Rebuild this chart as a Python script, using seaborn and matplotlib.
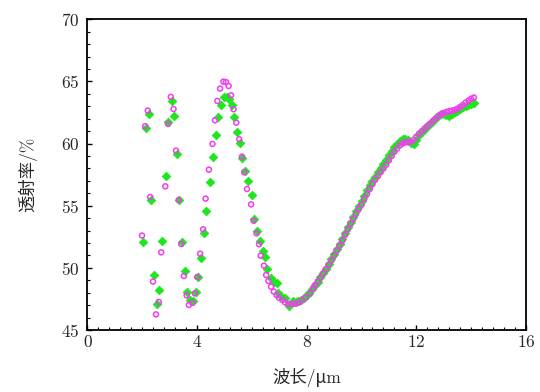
import matplotlib
matplotlib.use('Agg')
import matplotlib.pyplot as plt
import seaborn as sns
import pandas as pd
from matplotlib.ticker import MultipleLocator

# magenta open circles
wl_pink = [1.99, 2.11, 2.20, 2.29, 2.39, 2.50, 2.60, 2.69, 2.84, 2.94, 3.04, 3.14, 3.23, 3.33, 3.42,
           3.52, 3.62, 3.70, 3.83, 3.92, 4.01, 4.11, 4.22, 4.31, 4.43, 4.56, 4.65, 4.74, 4.84, 4.96,
           5.05, 5.15, 5.24, 5.33, 5.43, 5.54, 5.64, 5.72, 5.82, 5.97, 6.06, 6.17, 6.26,
           6.32, 6.44, 6.52, 6.60, 6.70, 6.80, 6.90, 6.99, 7.11, 7.21, 7.33, 7.45, 7.57, 7.70, 7.82,
           7.96, 8.12, 8.24,
           8.3, 8.4, 8.5, 8.6, 8.7, 8.8, 8.9, 9.0, 9.1, 9.2, 9.3, 9.4, 9.5, 9.6, 9.7, 9.8, 9.9,
           10.0, 10.1, 10.2, 10.3, 10.4, 10.5, 10.6, 10.7, 10.8, 10.9, 11.0, 11.1, 11.2, 11.3, 11.4,
           11.5, 11.6, 11.7, 11.8, 11.9, 12.0, 12.1, 12.2, 12.3, 12.4, 12.5, 12.6, 12.7, 12.8, 12.9,
           13.0, 13.1, 13.2, 13.3, 13.4, 13.5, 13.6, 13.7, 13.8, 13.9, 14.0, 14.1]
tr_pink = [52.6, 61.4, 62.65, 55.7, 48.9, 46.26, 47.26, 51.25, 56.56, 61.58, 63.75, 62.78, 59.43, 55.46, 51.92,
           49.35, 47.79, 47.02, 47.2, 47.95, 49.27, 51.14, 53.1, 55.57, 57.9, 59.97, 61.87, 63.43, 64.42, 64.98,
           64.95, 64.63, 63.88, 62.76, 61.68, 60.34, 58.95, 57.69, 56.35, 55.11, 53.8, 52.78, 51.9,
           50.98, 50.18, 49.43, 48.95, 48.49, 48.1, 47.82, 47.6, 47.42, 47.23, 47.1, 47.1, 47.12, 47.2, 47.4,
           47.6, 47.95, 48.36,
           48.6, 48.9, 49.2, 49.55, 49.9, 50.25, 50.6, 51.0, 51.4, 51.8, 52.2, 52.65, 53.1, 53.55, 53.95, 54.35, 54.75,
           55.1, 55.55, 55.95, 56.35, 56.75, 57.1, 57.4, 57.7, 58.0, 58.3, 58.65, 59.0, 59.35, 59.6, 59.85,
           60.0, 60.1, 60.1, 60.15, 60.3, 60.55, 60.8, 61.0, 61.2, 61.4, 61.6, 61.8, 62.0, 62.2, 62.35,
           62.45, 62.55, 62.6, 62.65, 62.7, 62.8, 62.95, 63.1, 63.3, 63.45, 63.6, 63.7]

# green filled diamonds
wl_green = [2.04, 2.14, 2.23, 2.32, 2.43, 2.52, 2.62, 2.72, 2.86, 2.95, 3.07, 3.17, 3.25, 3.35, 3.45,
            3.55, 3.64, 3.74, 3.84, 3.95, 4.03, 4.14, 4.24, 4.34, 4.48, 4.58, 4.68, 4.77, 4.87, 4.99,
            5.08, 5.18, 5.26, 5.36, 5.46, 5.57, 5.65, 5.76, 5.86, 5.99, 6.09, 6.20,
            6.30, 6.42, 6.48, 6.56, 6.69, 6.82, 6.92, 6.97, 7.06, 7.19, 7.36, 7.51,
            7.6, 7.7, 7.8, 7.9, 8.0, 8.1, 8.2, 8.3, 8.4, 8.5, 8.6, 8.7, 8.8, 8.9, 9.0, 9.1, 9.2,
            9.3, 9.4, 9.5, 9.6, 9.7, 9.8, 9.9, 10.0, 10.1, 10.2, 10.3, 10.4, 10.5, 10.6, 10.7,
            10.8, 10.9, 11.0, 11.1, 11.2, 11.3, 11.4, 11.5, 11.6, 11.7, 11.8, 11.9, 12.0, 12.1,
            12.2, 12.3, 12.4, 12.5, 12.6, 12.7, 12.8, 12.9, 13.0, 13.1, 13.2, 13.3, 13.4, 13.5,
            13.6, 13.7, 13.8, 13.9, 14.0, 14.1]
tr_green = [52.06, 61.28, 62.35, 55.46, 49.43, 47.07, 48.22, 52.19, 57.42, 61.71, 63.45, 62.25, 59.14, 55.44, 52.06,
            49.78, 48.09, 47.42, 47.37, 48.09, 49.27, 50.82, 52.81, 54.6, 56.94, 58.95, 60.72, 62.14, 63.13, 63.78,
            63.78, 63.56, 63.11, 62.14, 60.93, 60.05, 58.87, 57.77, 56.96, 55.84, 53.96, 53.0,
            52.19, 51.36, 50.9, 49.89, 49.16, 48.9, 48.75, 47.95, 47.77, 47.55, 46.93, 47.3,
            47.25, 47.3, 47.45, 47.6, 47.8, 48.0, 48.3, 48.6, 48.9, 49.25, 49.6, 49.95, 50.3, 50.7, 51.1, 51.5, 51.9,
            52.35, 52.8, 53.25, 53.7, 54.1, 54.55, 54.95, 55.35, 55.8, 56.25, 56.7, 57.0, 57.35, 57.7, 58.0,
            58.35, 58.7, 59.05, 59.4, 59.7, 59.95, 60.2, 60.35, 60.4, 60.3, 60.05, 59.95, 60.3, 60.65,
            60.9, 61.15, 61.4, 61.6, 61.85, 62.05, 62.25, 62.4, 62.4, 62.3, 62.25, 62.35, 62.5, 62.65,
            62.8, 62.9, 63.0, 63.1, 63.2, 63.3]

df_pink = pd.DataFrame({'wl': wl_pink, 'tr': tr_pink})
df_green = pd.DataFrame({'wl': wl_green, 'tr': tr_green})

sns.set_style('ticks')
plt.rcParams['font.family'] = ['cmr10', 'Noto Sans CJK SC']
plt.rcParams['axes.formatter.use_mathtext'] = True

fig = plt.figure(figsize=(5.4, 3.92), dpi=100)
ax = fig.add_axes([0.162, 0.158, 0.812, 0.793])

sns.scatterplot(data=df_green, x='wl', y='tr', marker='D', s=19, color='#1ee61e',
                edgecolor='#1ee61e', linewidth=0.6, ax=ax, zorder=2)
sns.scatterplot(data=df_pink, x='wl', y='tr', marker='o', s=13, facecolor='none',
                edgecolor='#f23cf2', linewidth=1.1, ax=ax, zorder=3)

ax.set_xlim(0, 16)
ax.set_ylim(45, 70)
ax.xaxis.set_major_locator(MultipleLocator(4))
ax.xaxis.set_minor_locator(MultipleLocator(0.4))
ax.yaxis.set_major_locator(MultipleLocator(5))
ax.yaxis.set_minor_locator(MultipleLocator(1))
ax.tick_params(which='both', direction='in', top=False, right=False, labelsize=12.5, color='k')
ax.tick_params(which='major', length=3.8, width=1.0)
ax.tick_params(which='minor', length=2.2, width=0.8)
ax.tick_params(axis='y', pad=6)
ax.tick_params(axis='x', pad=3)
for sp in ax.spines.values():
    sp.set_linewidth(1.3)
    sp.set_color('k')

ax.set_xlabel('波长/μm', fontsize=12.5, labelpad=13)
ax.set_ylabel('透射率/%', fontsize=12.5, labelpad=17)

fig.savefig('out.png', dpi=100)
plt.close()
